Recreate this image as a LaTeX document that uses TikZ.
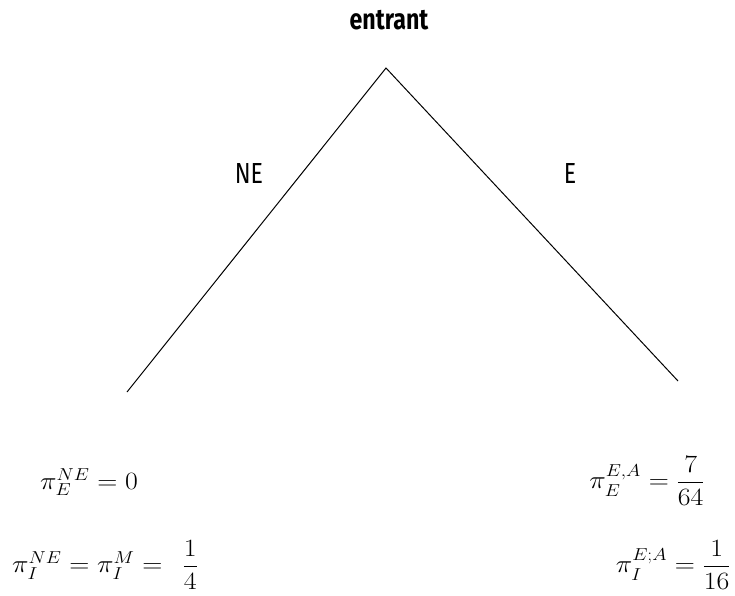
\documentclass[tikz,border=0pt]{standalone}
\usepackage{fontspec}
\usepackage{amsmath}
\setmainfont{Fira Sans}
\tikzset{
  lbl/.style={font=\fontsize{29}{34}\selectfont, inner sep=0pt, anchor=base},
  pay/.style={font=\fontsize{27}{32}\selectfont, inner sep=0pt},
  branch/.style={line width=1pt, black},
}
\newcommand{\cond}[1]{\scalebox{0.8}[1]{#1}}
\newcommand{\wide}[1]{\scalebox{1.12}[1]{#1}}
\begin{document}
\begin{tikzpicture}[x=1pt,y=-1pt]
\useasboundingbox (0,0) rectangle (735,595);
\coordinate (root) at (386,68);
\coordinate (leftend) at (127,392);
\coordinate (rightend) at (678,381);
\node[lbl] (ent) at (389,29) {\cond{\bfseries entrant}};
\node[lbl] (ne) at (249,183) {\cond{NE}};
\node[lbl] (e) at (570,183) {\cond{E}};
\draw[branch] (leftend) -- (root) -- (rightend);
\node[pay, anchor=west] (p1) at (40,482) {\wide{$\pi_E^{NE} = 0$}};
\node[pay, anchor=west] (p2) at (12,565) {\wide{$\pi_I^{NE} = \pi_I^{M} = \mkern8mu\dfrac{1}{4}$}};
\node[pay, anchor=east] (p3) at (705,481) {\wide{$\pi_E^{E,A} = \dfrac{7}{64}$}};
\node[pay, anchor=east] (p4) at (731,565) {\wide{$\pi_I^{E;A} = \dfrac{1}{16}$}};
\end{tikzpicture}
\end{document}
